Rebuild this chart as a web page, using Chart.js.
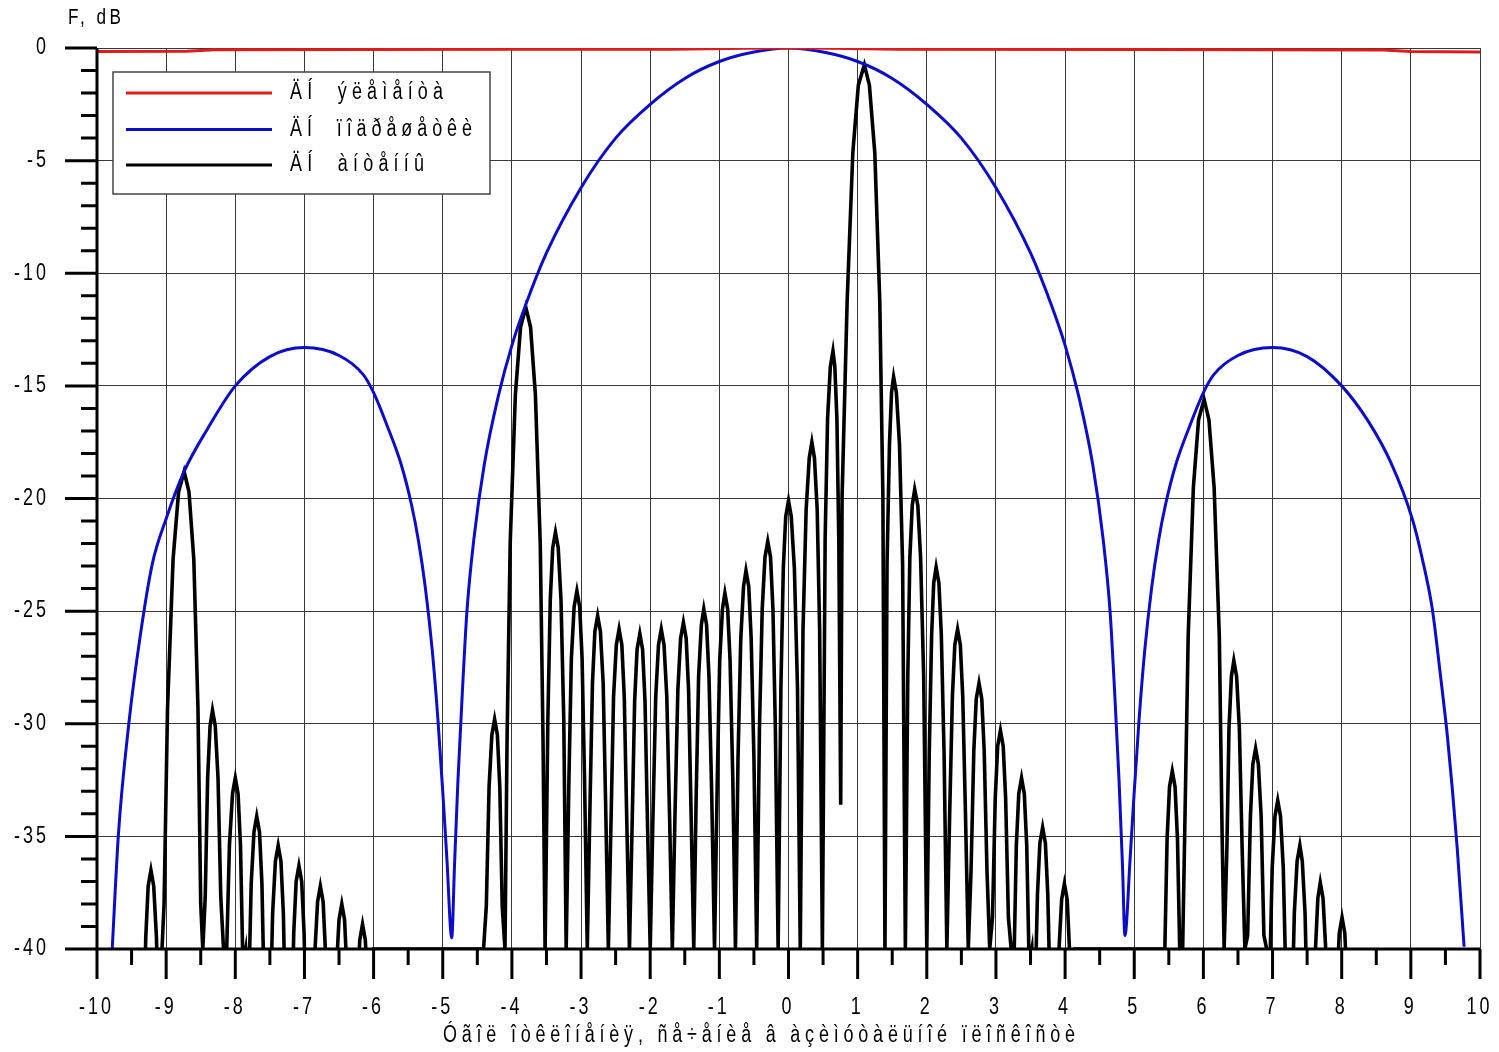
<!DOCTYPE html>
<html>
<head>
<meta charset="utf-8">
<title>ÄÍ àíòåííû</title>
<script src="https://cdn.jsdelivr.net/npm/chart.js@4/dist/chart.umd.min.js"></script>
<style>
  html, body { margin: 0; padding: 0; background: #fff; }
  canvas { display: block; }
</style>
</head>
<body>
<canvas id="pattern" width="1499" height="1052"></canvas>
<script>
// Text exactly as it shows on the picture
const seriesLabels = ['ÄÍ  ýëåìåíòà', 'ÄÍ  ïîäðåøåòêè', 'ÄÍ  àíòåííû'];
const yTitle = 'F, dB';
const xTitle = 'Óãîë îòêëîíåíèÿ, ñå÷åíèå â àçèìóòàëüíîé ïëîñêîñòè';

// Axis ranges and tick steps
const angleMin = -10, angleMax = 10, angleStep = 1;
const levelMin = -40, levelMax = 0, levelStep = 5;

// Element pattern (red): [angle, dB]
const elementPoints = [
  [-10, -0.16], [-8.7, -0.14], [-8.3, -0.08], [-4, -0.06], [-1.7, -0.05],
  [-0.6, -0.01], [0, 0], [0.6, -0.01], [1.6, -0.05], [5, -0.07],
  [8.6, -0.09], [9, -0.16], [10, -0.18]
];

// Subarray pattern (blue): [angle, dB]
const subarrayPoints = [
  [-9.78, -40], [-9.69, -34.9], [-9.54, -30.0], [-9.37, -26.0], [-9.20, -22.9],
  [-9.00, -20.9], [-8.74, -18.8], [-8.40, -16.9], [-8.00, -15.0], [-7.50, -13.7],
  [-7.00, -13.3], [-6.50, -13.65], [-6.15, -14.5], [-6.00, -15.3], [-5.80, -16.8],
  [-5.60, -18.5], [-5.45, -20.3], [-5.35, -21.9], [-5.25, -24.0], [-5.15, -26.8],
  [-5.07, -29.8], [-5.00, -33.0], [-4.94, -36.0], [-4.87, -39.5],
  [-4.83, -36.3], [-4.78, -32.5], [-4.72, -28.8], [-4.65, -25.0], [-4.55, -21.8],
  [-4.40, -18.5], [-4.20, -15.5], [-4.00, -13.2], [-3.80, -11.4], [-3.50, -9.1],
  [-3.00, -6.2], [-2.50, -4.0], [-2.00, -2.5], [-1.50, -1.35], [-1.00, -0.6],
  [-0.50, -0.18], [0, 0], [0.50, -0.18], [1.00, -0.6], [1.50, -1.35],
  [2.00, -2.5], [2.50, -4.0], [3.00, -6.2], [3.50, -9.1], [3.80, -11.4],
  [4.00, -13.2], [4.20, -15.5], [4.40, -18.5], [4.55, -21.8], [4.65, -25.0],
  [4.72, -28.8], [4.78, -32.5], [4.83, -36.3], [4.865, -39.4],
  [4.94, -36.0], [5.00, -33.0], [5.07, -29.8], [5.15, -26.8], [5.25, -24.0],
  [5.35, -21.9], [5.45, -20.3], [5.60, -18.5], [5.80, -16.8], [6.00, -15.3],
  [6.15, -14.5], [6.50, -13.65], [7.00, -13.3], [7.50, -13.7], [8.00, -15.0],
  [8.39, -16.6], [8.71, -18.4], [9.02, -20.9], [9.16, -22.6], [9.31, -24.9],
  [9.43, -27.9], [9.53, -30.6], [9.60, -32.9], [9.67, -35.5], [9.77, -39.9]
];

// Antenna pattern (black), lobes around the grating lobe at -8.7
const antennaWest = [
  [-9.37, -40], [-9.33, -44.8], [-9.295, -39.5], [-9.26, -37.2], [-9.22, -36.5], [-9.18, -37.2], [-9.14, -39.5], [-9.10, -44.8],
  [-9.06, -40], [-9.03, -38.0], [-8.98, -29.3], [-8.90, -22.7], [-8.82, -19.7], [-8.74, -18.8],
  [-8.67, -19.7], [-8.60, -22.7], [-8.54, -29.3], [-8.50, -38.0],
  [-8.47, -40], [-8.435, -37.7], [-8.40, -32.4], [-8.365, -30.1], [-8.33, -29.4], [-8.29, -30.1], [-8.25, -32.4], [-8.21, -37.7],
  [-8.17, -40], [-8.13, -40.7], [-8.085, -35.4], [-8.04, -33.1], [-8.00, -32.4], [-7.96, -33.1], [-7.925, -35.4], [-7.89, -40.7],
  [-7.85, -40], [-7.81, -42.4], [-7.77, -37.1], [-7.73, -34.8], [-7.69, -34.1], [-7.65, -34.8], [-7.615, -37.1], [-7.58, -42.4],
  [-7.54, -40], [-7.50, -43.7], [-7.46, -38.4], [-7.42, -36.1], [-7.38, -35.4], [-7.34, -36.1], [-7.305, -38.4], [-7.27, -43.7],
  [-7.23, -40], [-7.19, -44.6], [-7.155, -39.3], [-7.12, -37.0], [-7.08, -36.3], [-7.04, -37.0], [-7.005, -39.3], [-6.97, -44.6],
  [-6.93, -40], [-6.89, -45.5], [-6.85, -40.2], [-6.81, -37.9], [-6.77, -37.2], [-6.73, -37.9], [-6.695, -40.2], [-6.66, -45.5],
  [-6.62, -40], [-6.58, -46.3], [-6.54, -41.0], [-6.50, -38.7], [-6.46, -38.0], [-6.42, -38.7], [-6.385, -41.0], [-6.35, -46.3],
  [-6.31, -40], [-6.27, -47.2], [-6.235, -41.9], [-6.20, -39.6], [-6.16, -38.9], [-6.12, -39.6], [-6.08, -41.9], [-6.04, -47.2],
  [-6.00, -40]
];

// Antenna pattern (black), lobes from -4.4 to 4.1 (grating lobe at -3.8, main beam at 1.1)
const antennaCentre = [
  [-4.41, -40], [-4.37, -38.1], [-4.33, -32.8], [-4.29, -30.5], [-4.25, -29.8], [-4.21, -30.5], [-4.175, -32.8], [-4.14, -38.1],
  [-4.10, -40], [-4.07, -30.7], [-4.025, -22.0], [-3.95, -15.4], [-3.875, -12.4], [-3.80, -11.5],
  [-3.73, -12.4], [-3.66, -15.4], [-3.59, -22.0], [-3.55, -30.7],
  [-3.52, -40], [-3.48, -29.8], [-3.445, -24.5], [-3.41, -22.2], [-3.37, -21.5], [-3.33, -22.2], [-3.29, -24.5], [-3.25, -29.8],
  [-3.215, -40], [-3.175, -32.4], [-3.14, -27.1], [-3.10, -24.8], [-3.06, -24.1], [-3.02, -24.8], [-2.985, -27.1], [-2.95, -32.4],
  [-2.91, -40], [-2.87, -33.5], [-2.835, -28.2], [-2.80, -25.9], [-2.76, -25.2], [-2.72, -25.9], [-2.68, -28.2], [-2.645, -33.5],
  [-2.605, -40], [-2.565, -34.1], [-2.53, -28.8], [-2.49, -26.5], [-2.45, -25.8], [-2.41, -26.5], [-2.375, -28.8], [-2.34, -34.1],
  [-2.30, -40], [-2.26, -34.3], [-2.225, -29.0], [-2.19, -26.7], [-2.15, -26.0], [-2.11, -26.7], [-2.075, -29.0], [-2.04, -34.3],
  [-2.00, -40], [-1.96, -34.1], [-1.92, -28.8], [-1.88, -26.5], [-1.84, -25.8], [-1.80, -26.5], [-1.76, -28.8], [-1.72, -34.1],
  [-1.68, -40], [-1.64, -33.8], [-1.60, -28.5], [-1.56, -26.2], [-1.52, -25.5], [-1.48, -26.2], [-1.445, -28.5], [-1.41, -33.8],
  [-1.37, -40], [-1.335, -33.2], [-1.30, -27.9], [-1.26, -25.6], [-1.225, -24.9], [-1.185, -25.6], [-1.15, -27.9], [-1.11, -33.2],
  [-1.07, -40], [-1.03, -32.5], [-0.995, -27.2], [-0.955, -24.9], [-0.92, -24.2], [-0.88, -24.9], [-0.845, -27.2], [-0.805, -32.5],
  [-0.767, -40], [-0.73, -31.5], [-0.69, -26.2], [-0.65, -23.9], [-0.615, -23.2], [-0.575, -23.9], [-0.54, -26.2], [-0.50, -31.5],
  [-0.46, -40], [-0.42, -30.2], [-0.38, -24.9], [-0.34, -22.6], [-0.30, -21.9], [-0.26, -22.6], [-0.225, -24.9], [-0.19, -30.2],
  [-0.15, -40], [-0.11, -28.4], [-0.075, -23.1], [-0.04, -20.8], [0.00, -20.1], [0.04, -20.8], [0.085, -23.1], [0.13, -28.4],
  [0.17, -40], [0.21, -25.8], [0.255, -20.5], [0.30, -18.2], [0.338, -17.5], [0.375, -18.2], [0.415, -20.5], [0.45, -25.8],
  [0.49, -40], [0.53, -21.75], [0.565, -16.45], [0.605, -14.15], [0.643, -13.45], [0.67, -14.15], [0.70, -16.45], [0.727, -21.75],
  [0.755, -33.6], [0.775, -19.9], [0.848, -11.25], [0.93, -4.65], [1.01, -1.65], [1.097, -0.75],
  [1.17, -1.65], [1.248, -4.65], [1.32, -11.25], [1.365, -19.9],
  [1.395, -40], [1.425, -22.9], [1.46, -17.6], [1.49, -15.3], [1.52, -14.6], [1.56, -15.3], [1.605, -17.6], [1.65, -22.9],
  [1.69, -40], [1.725, -27.9], [1.755, -22.6], [1.79, -20.3], [1.825, -19.6], [1.87, -20.3], [1.91, -22.6], [1.955, -27.9],
  [2.00, -40], [2.035, -31.35], [2.07, -26.05], [2.10, -23.75], [2.135, -23.05], [2.175, -23.75], [2.21, -26.05], [2.25, -31.35],
  [2.29, -40], [2.33, -34.1], [2.37, -28.8], [2.405, -26.5], [2.445, -25.8], [2.485, -26.5], [2.52, -28.8], [2.56, -34.1],
  [2.60, -40], [2.64, -36.5], [2.68, -31.2], [2.715, -28.9], [2.755, -28.2], [2.795, -28.9], [2.83, -31.2], [2.87, -36.5],
  [2.91, -40], [2.95, -38.6], [2.99, -33.3], [3.025, -31.0], [3.065, -30.3], [3.105, -31.0], [3.14, -33.3], [3.18, -38.6],
  [3.22, -40], [3.26, -40.7], [3.295, -35.4], [3.33, -33.1], [3.37, -32.4], [3.41, -33.1], [3.445, -35.4], [3.48, -40.7],
  [3.52, -40], [3.56, -42.9], [3.60, -37.6], [3.635, -35.3], [3.675, -34.6], [3.715, -35.3], [3.75, -37.6], [3.79, -42.9],
  [3.83, -40], [3.87, -45.4], [3.91, -40.1], [3.95, -37.8], [3.99, -37.1], [4.03, -37.8], [4.065, -40.1], [4.10, -45.4],
  [4.14, -40]
];

// Antenna pattern (black), lobes around the grating lobe at 6.0
const antennaEast = [
  [5.40, -40], [5.44, -40.4], [5.475, -35.1], [5.51, -32.8], [5.55, -32.1], [5.59, -32.8], [5.625, -35.1], [5.66, -40.4],
  [5.70, -40], [5.73, -34.8], [5.78, -26.1], [5.855, -19.5], [5.93, -16.5], [6.01, -15.6],
  [6.08, -16.5], [6.155, -19.5], [6.23, -26.1], [6.27, -34.8],
  [6.30, -40], [6.34, -35.5], [6.37, -30.2], [6.405, -27.9], [6.44, -27.2], [6.48, -27.9], [6.52, -30.2], [6.56, -35.5],
  [6.60, -40], [6.64, -39.4], [6.68, -34.1], [6.715, -31.8], [6.755, -31.1], [6.795, -31.8], [6.835, -34.1], [6.875, -39.4],
  [6.915, -40], [6.955, -41.7], [6.995, -36.4], [7.035, -34.1], [7.075, -33.4], [7.115, -34.1], [7.155, -36.4], [7.195, -41.7],
  [7.235, -40], [7.275, -43.7], [7.315, -38.4], [7.355, -36.1], [7.395, -35.4], [7.43, -36.1], [7.47, -38.4], [7.51, -43.7],
  [7.545, -40], [7.58, -45.35], [7.62, -40.05], [7.655, -37.75], [7.69, -37.05], [7.73, -37.75], [7.77, -40.05], [7.81, -45.35],
  [7.85, -40], [7.89, -46.9], [7.93, -41.6], [7.965, -39.3], [8.005, -38.6], [8.045, -39.3], [8.08, -41.6], [8.12, -46.9],
  [8.16, -40]
];

const seriesColors = ['#e11a1a', '#0d0dc8', '#000000'];

const FONT = '"Liberation Sans", Arial, sans-serif';
const SQUEEZE = 0.78; // the picture uses a narrow typeface

function toXY(points) {
  return points.map(p => ({ x: p[0], y: p[1] }));
}

// narrow text with a fixed gap between letters (gap in screen px)
function drawText(ctx, text, x, y, align, size, gap) {
  ctx.save();
  ctx.font = size + 'px ' + FONT;
  ctx.letterSpacing = '0px';
  const natural = ctx.measureText(text).width * SQUEEZE;
  const w = natural + gap * (text.length - 1);
  let x0 = x;
  if (align === 'center') x0 = x - w / 2;
  else if (align === 'right') x0 = x - w;
  ctx.letterSpacing = (gap / SQUEEZE) + 'px';
  ctx.textAlign = 'left';
  ctx.textBaseline = 'middle';
  ctx.translate(x0, y);
  ctx.scale(SQUEEZE, 1);
  ctx.fillText(text, 0, 0);
  ctx.restore();
}

// narrow text stretched by letter gaps to a given width
function drawTextFit(ctx, text, x, y, size, width) {
  ctx.save();
  ctx.font = size + 'px ' + FONT;
  ctx.letterSpacing = '0px';
  const natural = ctx.measureText(text).width * SQUEEZE;
  ctx.restore();
  const gap = Math.max(0, (width - natural) / (text.length - 1));
  drawText(ctx, text, x, y, 'left', size, gap);
}

// Axis lines, tick marks, tick labels, legend and titles
const framePlugin = {
  id: 'frame',
  afterDraw(chart) {
    const ctx = chart.ctx;
    const area = chart.chartArea;
    const xs = chart.scales.x;
    const ys = chart.scales.y;

    ctx.save();
    ctx.strokeStyle = '#000';
    ctx.lineWidth = 3;
    ctx.beginPath();
    ctx.moveTo(area.left, area.top);
    ctx.lineTo(area.left, area.bottom);
    ctx.moveTo(area.left - 32, area.bottom);
    ctx.lineTo(area.right, area.bottom);
    for (let v = levelMin; v <= levelMax; v += 1) {
      const y = ys.getPixelForValue(v);
      const len = v % levelStep === 0 ? 32 : 16;
      ctx.moveTo(area.left - len, y);
      ctx.lineTo(area.left, y);
    }
    for (let v = angleMin; v <= angleMax; v += angleStep / 2) {
      const x = xs.getPixelForValue(v);
      const len = Number.isInteger(v) ? 30 : 16;
      ctx.moveTo(x, area.bottom);
      ctx.lineTo(x, area.bottom + len);
    }
    ctx.stroke();
    ctx.fillStyle = '#000';

    // tick labels from the scales
    ys.ticks.forEach(t => {
      drawText(ctx, String(t.value), 46, ys.getPixelForValue(t.value), 'right', 23, 3);
    });
    xs.ticks.forEach(t => {
      drawText(ctx, String(t.value), xs.getPixelForValue(t.value) - 2, 1008, 'center', 23, 3);
    });

    // legend box
    const bx = 113, by = 72, bw = 377, bh = 122;
    ctx.fillStyle = '#fff';
    ctx.fillRect(bx, by, bw, bh);
    ctx.strokeStyle = '#444';
    ctx.lineWidth = 1.5;
    ctx.strokeRect(bx, by, bw, bh);
    const rows = [93, 129.5, 165];
    const textWidths = [153, 182, 134];
    chart.data.datasets.forEach((ds, i) => {
      ctx.strokeStyle = ds.borderColor;
      ctx.lineWidth = 3;
      ctx.beginPath();
      ctx.moveTo(126, rows[i]);
      ctx.lineTo(272, rows[i]);
      ctx.stroke();
      ctx.fillStyle = '#000';
      drawTextFit(ctx, ds.label, 290, rows[i], 23, textWidths[i]);
    });

    // titles
    ctx.fillStyle = '#000';
    drawTextFit(ctx, yTitle, 68, 18, 22, 53);
    drawTextFit(ctx, xTitle, 443, 1036, 23, 632);
    ctx.restore();
  }
};

const ctx = document.getElementById('pattern').getContext('2d');
new Chart(ctx, {
  type: 'line',
  data: {
    datasets: [
      {
        label: seriesLabels[0],
        data: toXY(elementPoints),
        borderColor: seriesColors[0],
        borderWidth: 3,
        pointRadius: 0,
        fill: false
      },
      {
        label: seriesLabels[1],
        data: toXY(subarrayPoints),
        borderColor: seriesColors[1],
        borderWidth: 3,
        pointRadius: 0,
        cubicInterpolationMode: 'monotone',
        fill: false
      },
      {
        label: seriesLabels[2],
        data: toXY(antennaWest.concat(antennaCentre, antennaEast)),
        borderColor: seriesColors[2],
        borderWidth: 3.6,
        pointRadius: 0,
        tension: 0,
        fill: false
      }
    ]
  },
  options: {
    responsive: false,
    animation: false,
    events: [],
    layout: { padding: { top: 48, right: 19, left: 0, bottom: 0 } },
    plugins: {
      legend: { display: false },
      tooltip: { enabled: false }
    },
    scales: {
      x: {
        type: 'linear',
        min: angleMin,
        max: angleMax,
        afterFit: s => {
          s.height = 103;
          s.paddingLeft = 0;
          s.paddingRight = 0;
        },
        border: { display: false },
        grid: { color: '#383838', lineWidth: 1, drawTicks: false },
        ticks: { stepSize: angleStep, display: false }
      },
      y: {
        type: 'linear',
        min: levelMin,
        max: levelMax,
        afterFit: s => {
          s.width = 97;
          s.paddingTop = 0;
          s.paddingBottom = 0;
        },
        border: { display: false },
        grid: { color: '#383838', lineWidth: 1, drawTicks: false },
        ticks: { stepSize: levelStep, display: false }
      }
    }
  },
  plugins: [framePlugin]
});
</script>
</body>
</html>
